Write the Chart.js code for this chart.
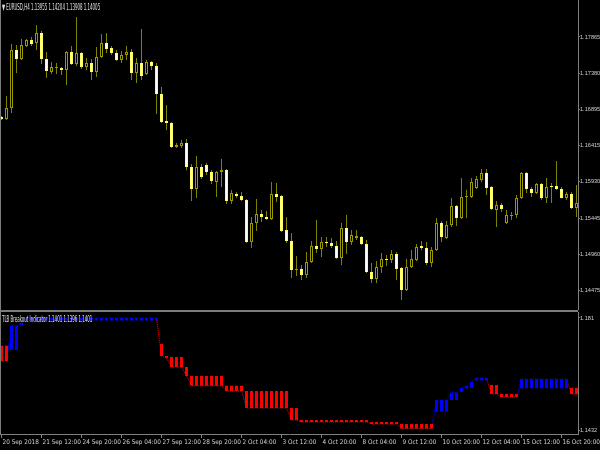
<!DOCTYPE html>
<html>
<head>
<meta charset="utf-8">
<script src="https://cdn.jsdelivr.net/npm/chart.js@4.4.1/dist/chart.umd.min.js"></script>
<style>
html,body{margin:0;padding:0;background:#000;}
#wrap{position:relative;width:600px;height:450px;background:#000;overflow:hidden;}
canvas{position:absolute;left:0;}
#cMain{top:0;}
#cInd{top:312px;}
.sep{position:absolute;background:#7c7c7c;}
.lbl{position:absolute;font-family:'DejaVu Sans Condensed',sans-serif;font-size:8px;line-height:9px;color:#e0e0e0;white-space:nowrap;transform-origin:0 0;transform:scaleX(.55);}
</style>
</head>
<body>
<div id="wrap">
  <canvas id="cMain" width="600" height="310"></canvas>
  <canvas id="cInd" width="600" height="138"></canvas>
  <div class="sep" style="left:0;top:310px;width:578px;height:2px"></div>
  <div class="sep" style="left:0;top:0;width:1px;height:434px"></div>
  <div class="lbl" style="left:2px;top:3px">▼ EURUSD,H4 1.13955 1.14204 1.13908 1.14005</div>
  <div class="lbl" style="left:2px;top:315px">TLB Breakout Indicator 1.1401 1.1396 1.1401</div>
</div>
<script>
// EURUSD H4 candles + TLB Breakout histogram, MT4 look.
const WICK = "#808000", BULL_EDGE = "#9a9a00", BEAR_EDGE = "#ffff66", AX = "#808080", TXT = "#d0d0d0";
const RED = "#ff0000", BLUE = "#0000ff";
Chart.defaults.font.family = "'DejaVu Sans Condensed','DejaVu Sans',sans-serif";

const OPEN = [1.16796,1.16769,1.16916,1.17691,1.17571,1.17744,1.17825,1.17785,1.17918,1.17571,
  1.17397,1.17451,1.17451,1.17424,1.17664,1.17504,1.17651,1.17464,1.17517,1.17397,
  1.17598,1.17785,1.17718,1.17651,1.17557,1.17624,1.17664,1.17384,1.17517,1.17370,
  1.17531,1.17477,1.17103,1.16742,1.16716,1.16395,1.16408,1.16448,1.16128,1.15834,
  1.16128,1.16155,1.16061,1.15927,1.16061,1.16088,1.15674,1.15767,1.15740,1.15687,
  1.15126,1.15380,1.15500,1.15460,1.15433,1.15767,1.15740,1.15286,1.15139,1.14752,
  1.14765,1.14685,1.14859,1.15072,1.15032,1.15126,1.15112,1.15072,1.14912,1.15313,
  1.15126,1.15179,1.15193,1.15099,1.14725,1.14632,1.14792,1.14899,1.14885,1.14966,
  1.14779,1.14485,1.14792,1.14885,1.15072,1.15046,1.14845,1.15019,1.15380,1.15179,
  1.15353,1.15607,1.15446,1.15727,1.15727,1.15847,1.15954,1.16048,1.15861,1.15553,
  1.15620,1.15380,1.15473,1.15487,1.15714,1.16048,1.15834,1.15780,1.15901,1.15714,
  1.15874,1.15874,1.15834,1.15714,1.15767,1.15580];
const HIGH = [1.16809,1.17076,1.17771,1.17758,1.17838,1.17838,1.17865,1.18025,1.17945,1.17664,
  1.17531,1.17517,1.17464,1.17678,1.17744,1.18132,1.17664,1.17584,1.17571,1.17731,
  1.17905,1.17918,1.17744,1.17691,1.17678,1.17744,1.17704,1.17584,1.17972,1.17557,
  1.17544,1.17517,1.17197,1.16956,1.16729,1.16448,1.16489,1.16502,1.16168,1.16275,
  1.16168,1.16181,1.16088,1.16074,1.16235,1.16101,1.15821,1.15794,1.15794,1.15700,
  1.15460,1.15700,1.15553,1.15540,1.15927,1.15914,1.15754,1.15460,1.15246,1.14939,
  1.14819,1.14992,1.15139,1.15420,1.15193,1.15193,1.15179,1.15139,1.15380,1.15487,
  1.15286,1.15286,1.15206,1.15153,1.14845,1.14872,1.14979,1.14952,1.15019,1.14992,
  1.14792,1.14899,1.15019,1.15099,1.15139,1.15126,1.15059,1.15446,1.15406,1.15406,
  1.15714,1.15620,1.15981,1.15821,1.15981,1.16008,1.16101,1.16101,1.15874,1.15674,
  1.15647,1.15553,1.15527,1.15754,1.16061,1.16061,1.15861,1.15914,1.15914,1.15981,
  1.15914,1.16208,1.15861,1.15794,1.15794,1.15887];
const LOW = [1.16756,1.16756,1.16849,1.17384,1.17557,1.17731,1.17744,1.17691,1.17504,1.17317,
  1.17370,1.17370,1.17357,1.17223,1.17490,1.17477,1.17437,1.17424,1.17290,1.17330,
  1.17584,1.17651,1.17624,1.17544,1.17517,1.17557,1.17290,1.17250,1.17290,1.17357,
  1.17424,1.16836,1.16716,1.16622,1.16382,1.16382,1.16382,1.16088,1.15674,1.15714,
  1.15968,1.16021,1.15901,1.15727,1.15861,1.15634,1.15634,1.15714,1.15674,1.15112,
  1.15046,1.15273,1.15393,1.15420,1.15420,1.15660,1.15259,1.15112,1.14645,1.14672,
  1.14618,1.14645,1.14845,1.14979,1.14926,1.15059,1.15046,1.14899,1.14819,1.14966,
  1.15086,1.15153,1.15086,1.14712,1.14578,1.14578,1.14712,1.14805,1.14845,1.14618,
  1.14351,1.14471,1.14779,1.14872,1.15019,1.14819,1.14792,1.15006,1.15126,1.15166,
  1.15326,1.15340,1.15433,1.15446,1.15714,1.15834,1.15927,1.15754,1.15553,1.15326,
  1.15527,1.15366,1.15420,1.15446,1.15700,1.15780,1.15727,1.15767,1.15687,1.15647,
  1.15647,1.15821,1.15707,1.15687,1.15567,1.15460];
const CLOSE = [1.16769,1.16916,1.17691,1.17571,1.17758,1.17825,1.17771,1.17918,1.17571,1.17410,
  1.17464,1.17464,1.17424,1.17664,1.17504,1.17651,1.17464,1.17517,1.17397,1.17598,
  1.17785,1.17704,1.17651,1.17557,1.17624,1.17664,1.17384,1.17517,1.17344,1.17531,
  1.17477,1.17103,1.16729,1.16716,1.16395,1.16422,1.16448,1.16128,1.15834,1.16128,
  1.15994,1.16061,1.15941,1.16061,1.16088,1.15674,1.15780,1.15740,1.15687,1.15126,
  1.15380,1.15500,1.15460,1.15433,1.15767,1.15727,1.15273,1.15139,1.14752,1.14765,
  1.14685,1.14859,1.15072,1.15032,1.15126,1.15112,1.15072,1.14912,1.15313,1.15126,
  1.15219,1.15206,1.15099,1.14725,1.14632,1.14792,1.14899,1.14885,1.14966,1.14765,
  1.14485,1.14792,1.14899,1.15059,1.15046,1.14845,1.15019,1.15380,1.15193,1.15353,
  1.15607,1.15446,1.15727,1.15740,1.15927,1.15968,1.16048,1.15847,1.15567,1.15620,
  1.15567,1.15487,1.15487,1.15714,1.16048,1.15834,1.15780,1.15901,1.15714,1.15861,
  1.15861,1.15834,1.15714,1.15767,1.15580,1.15647];
const PRICE_TICKS = [1.17865,1.17380,1.16895,1.16415,1.15930,1.15445,1.14960,1.14475];

// indicator: histogram top / bottom per bar, d = down (red), u = up (blue)
const IND_HI = [1.17165,1.17165,1.17840,1.17840,1.17931,
  1.18100,1.18100,1.18100,1.18100,1.18100,1.18100,1.18100,1.18100,1.18100,1.18100,
  1.18100,1.18100,1.18100,1.18100,1.18100,1.18100,1.18100,1.18100,1.18100,1.18100,
  1.18100,1.18100,1.18100,1.18100,1.18100,1.18100,1.18100,
  1.17222,1.16817,1.16784,1.16784,1.16784,1.16446,
  1.16142,1.16142,1.16142,1.16142,1.16142,1.16142,1.16142,
  1.15815,1.15815,1.15815,1.15815,
  1.15636,1.15636,1.15636,1.15636,1.15636,1.15636,1.15636,1.15636,1.15636,
  1.15062,1.15062,
  1.14657,1.14657,1.14657,1.14657,1.14657,1.14657,1.14657,1.14657,1.14657,1.14657,1.14657,1.14657,1.14657,1.14657,
  1.14590,1.14590,1.14590,1.14590,1.14590,1.14590,
  1.14522,1.14522,1.14522,1.14522,1.14522,1.14522,1.14522,
  1.15332,1.15332,1.15332,1.15579,1.15579,1.15737,1.15805,1.15940,
  1.16075,1.16075,1.16075,1.15839,1.15839,
  1.15535,1.15535,1.15535,1.15535,
  1.16041,1.16041,1.16041,1.16041,1.16041,1.16041,1.16041,1.16041,1.16041,1.16041,
  1.15737,1.15737];
const IND_LO = [1.16649,1.16649,1.17020,1.17020,1.17864,
  1.18016,1.18016,1.18016,1.18016,1.18016,1.18016,1.18016,1.18016,1.18016,1.18016,
  1.18016,1.18016,1.18016,1.18016,1.18016,1.18016,1.18016,1.18016,1.18016,1.18016,
  1.18016,1.18016,1.18016,1.18016,1.18016,1.18016,1.18016,
  1.16817,1.16750,1.16446,1.16446,1.16446,1.16142,
  1.15815,1.15815,1.15815,1.15815,1.15815,1.15815,1.15815,
  1.15636,1.15636,1.15636,1.15636,
  1.15062,1.15062,1.15062,1.15062,1.15062,1.15062,1.15062,1.15062,1.15062,
  1.14657,1.14657,
  1.14590,1.14590,1.14590,1.14590,1.14590,1.14590,1.14590,1.14590,1.14590,1.14590,1.14590,1.14590,1.14590,1.14590,
  1.14522,1.14522,1.14522,1.14522,1.14522,1.14522,
  1.14370,1.14370,1.14370,1.14370,1.14370,1.14370,1.14370,
  1.14938,1.14938,1.14938,1.15332,1.15332,1.15602,1.15720,1.15737,
  1.15991,1.15991,1.15991,1.15535,1.15535,
  1.15434,1.15434,1.15434,1.15434,
  1.15727,1.15727,1.15727,1.15727,1.15727,1.15727,1.15727,1.15727,1.15727,1.15727,
  1.15535,1.15535];
const IND_DIR = ("dduuu" + "u".repeat(27) + "dddddd" + "ddddddd" + "dddd" + "ddddddddd" + "dd" +
  "dddddddddddddd" + "dddddd" + "ddddddd" + "uuuuuuuu" + "uuu" + "dd" + "dddd" + "uuuuuuuuuu" + "dd").split("");
const IND_TICKS = [1.181, 1.1432];

const TIME_BARS = [0,8,16,24,32,40,48,56,64,72,80,88,96,104,112];
const TIME_LABELS = ["20 Sep 2018","21 Sep 12:00","24 Sep 20:00","26 Sep 04:00","27 Sep 12:00",
  "28 Sep 20:00","2 Oct 04:00","3 Oct 12:00","4 Oct 20:00","8 Oct 04:00","9 Oct 12:00",
  "10 Oct 20:00","12 Oct 04:00","15 Oct 12:00","16 Oct 20:00"];

const idx = OPEN.map((_, i) => i);
const bear = idx.map(i => CLOSE[i] < OPEN[i]);
const X_MIN = -0.3, X_MAX = 115.3;

function rightAxis(min, max, ticks, fmt){
  return {
    position:"right", min, max,
    afterBuildTicks: s => { s.ticks = ticks.map(v => ({value:v})); },
    afterFit: s => { s.width = 22; s.paddingTop = 0; s.paddingBottom = 0; },
    grid:{drawOnChartArea:false, color:AX, tickLength:2},
    border:{color:AX},
    ticks:{color:TXT, padding:0, font:{family:"'Liberation Sans',sans-serif", size:5.6}, callback:fmt}
  };
}

new Chart(document.getElementById("cMain"), {
  type:"bar",
  data:{datasets:[
    {data: idx.map(i => ({x:i, y:[OPEN[i], CLOSE[i]]})),
     backgroundColor: idx.map(i => bear[i] ? "#ffffff" : "#000000"),
     borderColor: idx.map(i => bear[i] ? BEAR_EDGE : BULL_EDGE),
     borderWidth:1, borderSkipped:false, inflateAmount:0, grouped:false,
     barThickness:3, maxBarThickness:3, order:0},
    {data: idx.map(i => ({x:i, y:[LOW[i], HIGH[i]]})),
     backgroundColor: WICK, borderWidth:0, inflateAmount:0, grouped:false,
     barThickness:1, maxBarThickness:1, order:1}
  ]},
  options:{
    responsive:false, animation:false, layout:{padding:0},
    plugins:{legend:{display:false}, tooltip:{enabled:false}},
    scales:{
      x:{type:"linear", min:X_MIN, max:X_MAX, offset:false, grid:{offset:false}, display:false},
      y:rightAxis(1.14217, 1.18359, PRICE_TICKS, v => v.toFixed(5))
    }
  }
});

new Chart(document.getElementById("cInd"), {
  type:"bar",
  data:{datasets:[
    {data: idx.map(i => ({x:i, y:[IND_LO[i], IND_HI[i]]})),
     backgroundColor: idx.map(i => IND_DIR[i] === "d" ? RED : BLUE),
     borderWidth:0, inflateAmount:0, grouped:false,
     barThickness:3, maxBarThickness:3, order:0},
    {type:"line",
     data: idx.map(i => ({x:i, y: IND_DIR[i] === "d" ? IND_LO[i] : IND_HI[i]})),
     borderWidth:1, borderDash:[1,1], pointRadius:0, borderColor:RED,
     segment:{borderColor: c => IND_DIR[c.p1DataIndex] === "d" ? RED : BLUE},
     order:1}
  ]},
  options:{
    responsive:false, animation:false, layout:{padding:0},
    plugins:{legend:{display:false}, tooltip:{enabled:false}},
    scales:{
      x:{type:"linear", min:X_MIN, max:X_MAX, position:"bottom", offset:false,
         afterBuildTicks: s => { s.ticks = TIME_BARS.map(v => ({value:v})); },
         afterFit: s => { s.height = 16; s.paddingLeft = 0; s.paddingRight = 0; },
         grid:{drawOnChartArea:false, offset:false, color:AX, tickLength:4},
         border:{color:AX},
         ticks:{color:TXT, align:"start", labelOffset:1, padding:1, maxRotation:0, autoSkip:false,
                font:{size:6.4}, callback:(v, i) => TIME_LABELS[i]}},
      y:rightAxis(1.14185, 1.183025, IND_TICKS, v => String(Number(v.toFixed(4))))
    }
  }
});
</script>
</body>
</html>
